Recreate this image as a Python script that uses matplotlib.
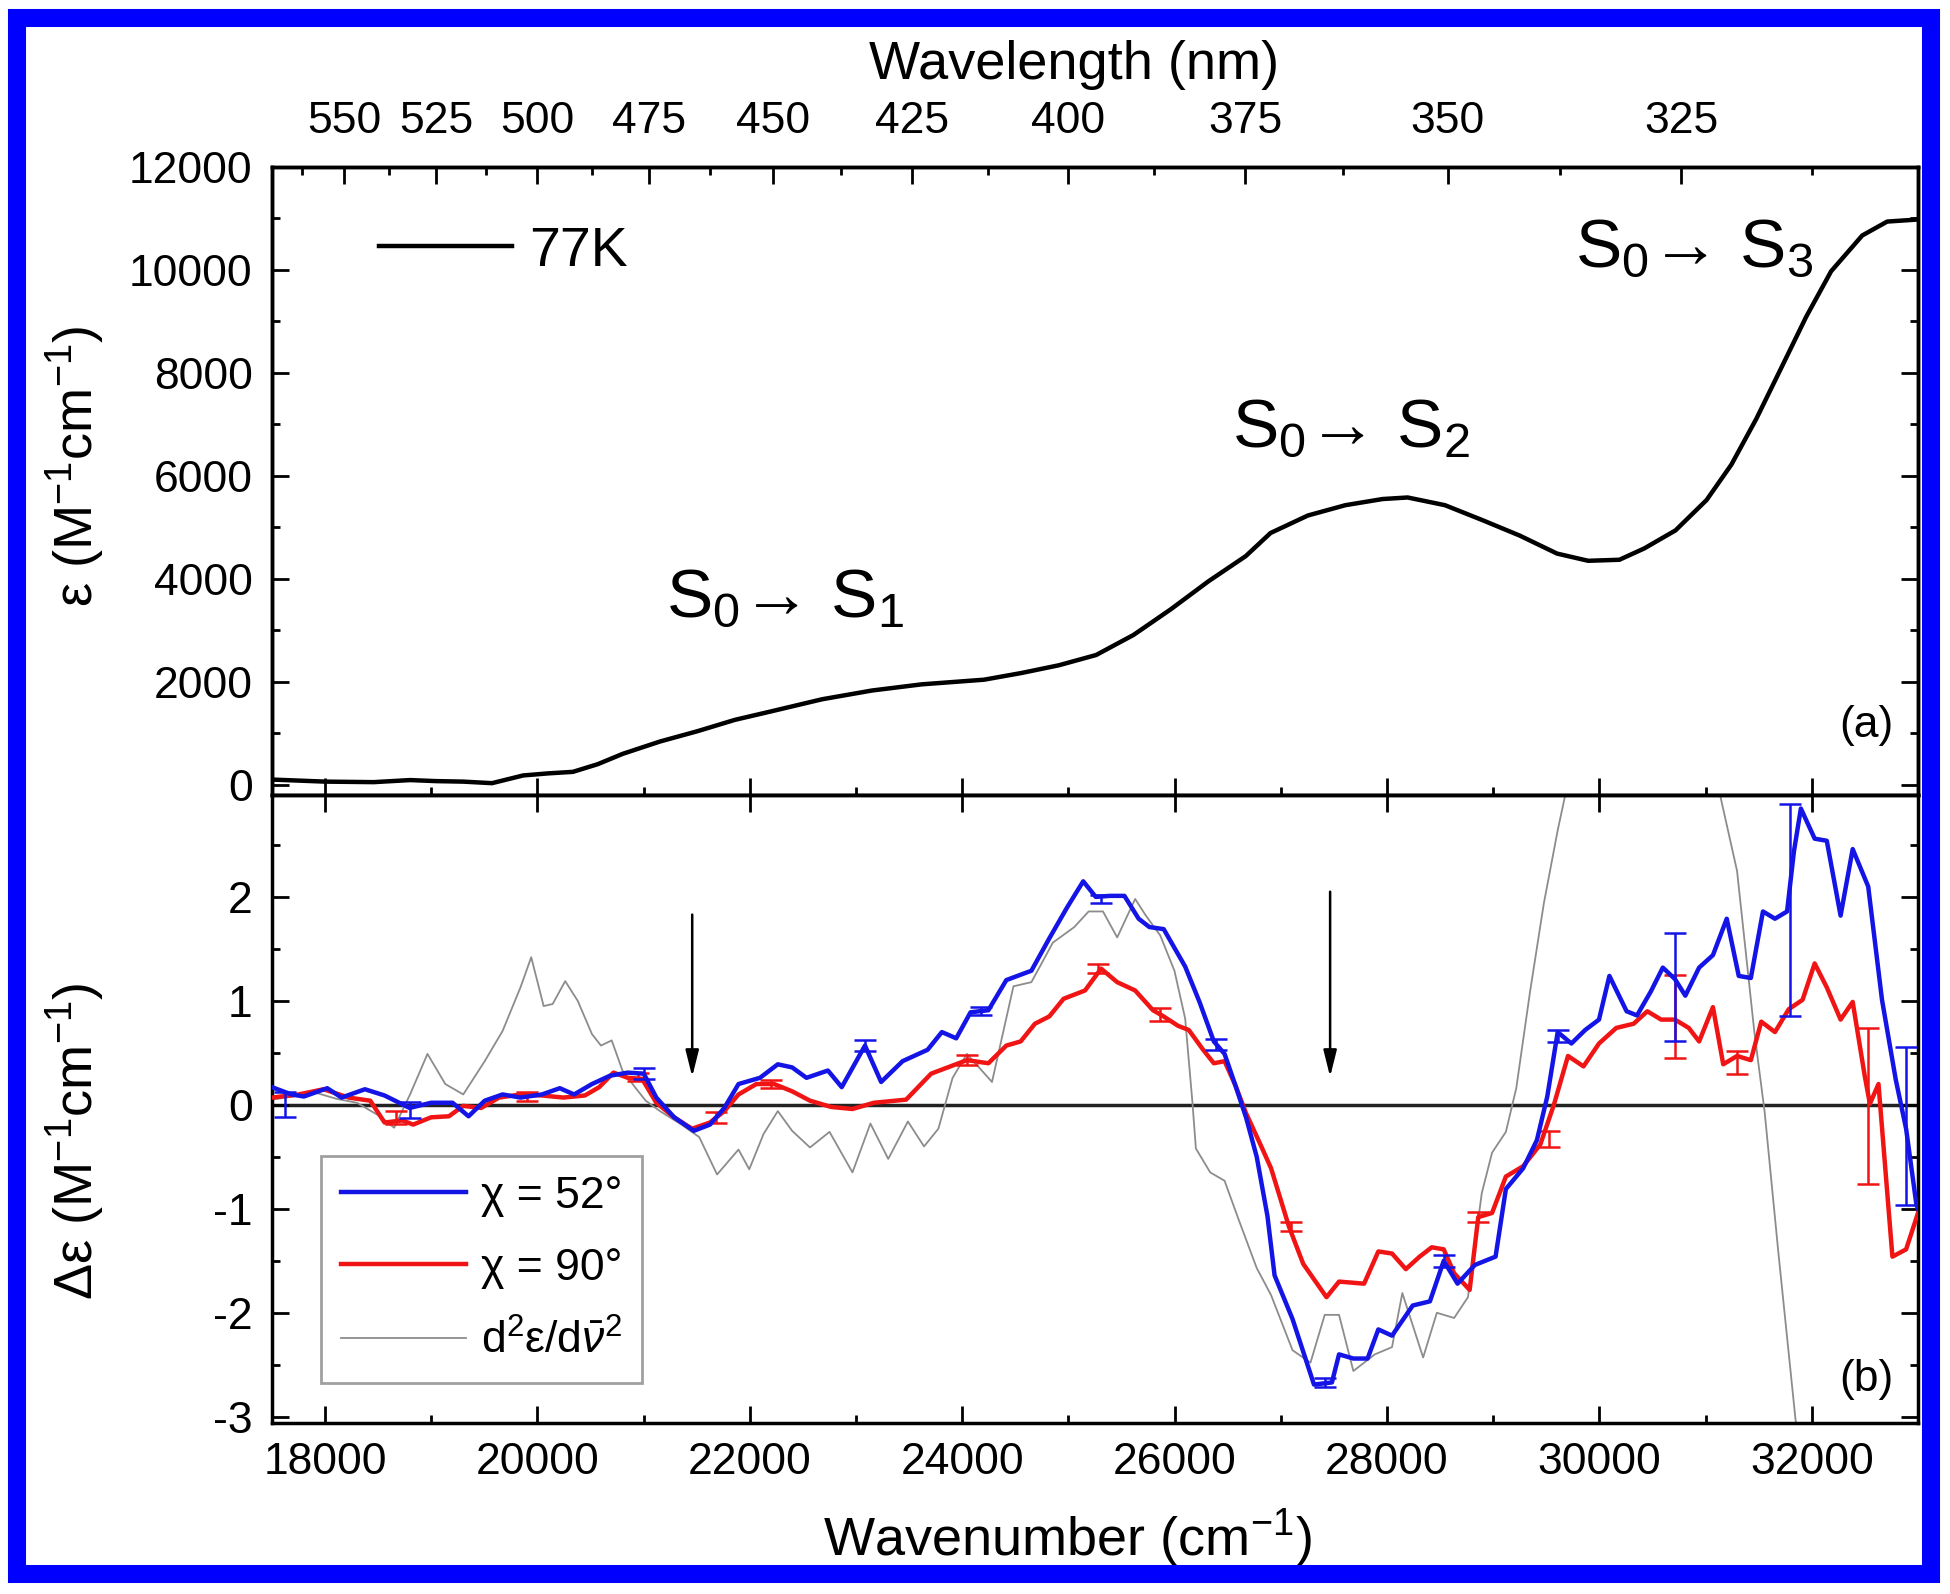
import numpy as np
import matplotlib
matplotlib.use("Agg")
import matplotlib.pyplot as plt
from matplotlib.patches import Rectangle
from matplotlib.ticker import MultipleLocator

plt.rcParams['font.family'] = ['Liberation Sans', 'DejaVu Sans']
plt.rcParams['mathtext.fontset'] = 'custom'
plt.rcParams['mathtext.rm'] = 'Liberation Sans'
plt.rcParams['mathtext.it'] = 'Liberation Sans:italic'
plt.rcParams['mathtext.bf'] = 'Liberation Sans:bold'
plt.rcParams['axes.unicode_minus'] = False

# (a) absorption at 77K
wn_77k = [17500, 18000, 18457, 18800, 19044, 19300, 19572, 19865, 20100, 20334, 20569,
          20803, 21155, 21507, 21859, 22211, 22680, 23150, 23619, 24205, 24557, 24909,
          25261, 25613, 25965, 26317, 26669, 26903, 27255, 27607, 27959, 28194, 28546,
          28898, 29249, 29601, 29894, 30188, 30422, 30716, 31009, 31243, 31478, 31713,
          31947, 32182, 32475, 32710, 33000]
eps_77k = [100, 60, 50, 90, 70, 60, 30, 180, 220, 250, 400,
           600, 840, 1040, 1260, 1430, 1660, 1830, 1950, 2040, 2170, 2320,
           2520, 2910, 3410, 3950, 4440, 4890, 5230, 5430, 5550, 5580, 5430,
           5140, 4840, 4490, 4350, 4370, 4590, 4940, 5530, 6220, 7110, 8100,
           9090, 9975, 10670, 10940, 10980]

# top axis wavelengths (nm)
wl_major = [550, 525, 500, 475, 450, 425, 400, 375, 350, 325]
wl_minor = [562.5, 537.5, 512.5, 487.5, 462.5, 437.5, 412.5, 387.5, 362.5, 337.5, 312.5]

# (b) CD spectra
wn_52 = [17500, 17683, 17800, 18020, 18155, 18375, 18560, 18796, 18998, 19200, 19351,
         19503, 19671, 19840, 20042, 20210, 20345, 20513, 20682, 20850, 21001, 21119,
         21287, 21472, 21624, 21759, 21893, 22095, 22263, 22398, 22533, 22735, 22865,
         23084, 23236, 23438, 23674, 23808, 23943, 24078, 24246, 24415, 24651, 24819,
         24988, 25139, 25257, 25392, 25527, 25661, 25762, 25897, 26099, 26234, 26369,
         26470, 26571, 26672, 26773, 26874, 26941, 27110, 27312, 27481, 27548, 27683,
         27817, 27918, 28047, 28242, 28404, 28534, 28664, 28827, 29022, 29119, 29282,
         29411, 29509, 29607, 29736, 29866, 29996, 30094, 30256, 30354, 30484, 30597,
         30711, 30809, 30939, 31069, 31199, 31312, 31426, 31540, 31653, 31767, 31832,
         31897, 32027, 32141, 32271, 32385, 32531, 32661, 32791, 32888, 32985, 33000]
de_52 = [0.17, 0.10, 0.08, 0.16, 0.07, 0.15, 0.09, -0.03, 0.02, 0.02, -0.11,
         0.04, 0.10, 0.07, 0.10, 0.16, 0.10, 0.20, 0.28, 0.31, 0.30, 0.07,
         -0.12, -0.25, -0.19, -0.03, 0.20, 0.26, 0.39, 0.36, 0.26, 0.33, 0.17,
         0.57, 0.22, 0.42, 0.53, 0.70, 0.64, 0.89, 0.91, 1.20, 1.29, 1.60,
         1.90, 2.15, 2.00, 2.01, 2.01, 1.79, 1.71, 1.69, 1.33, 0.99, 0.61,
         0.49, 0.19, -0.12, -0.50, -1.07, -1.64, -2.06, -2.69, -2.67, -2.40, -2.44,
         -2.44, -2.16, -2.22, -1.93, -1.89, -1.50, -1.72, -1.54, -1.46, -0.81, -0.61,
         -0.34, 0.08, 0.70, 0.59, 0.72, 0.82, 1.24, 0.90, 0.86, 1.09, 1.32,
         1.21, 1.05, 1.32, 1.44, 1.79, 1.24, 1.22, 1.86, 1.79, 1.86, 2.44,
         2.85, 2.56, 2.54, 1.82, 2.46, 2.10, 1.01, 0.24, -0.23, -0.96, -1.00]

wn_90 = [17500, 17750, 17986, 18222, 18425, 18560, 18728, 18829, 18998, 19166, 19301,
         19469, 19638, 19840, 20042, 20244, 20446, 20581, 20716, 20850, 20985, 21119,
         21287, 21455, 21624, 21759, 21893, 22061, 22229, 22398, 22566, 22764, 22966,
         23168, 23471, 23707, 24044, 24246, 24415, 24550, 24684, 24819, 24954, 25156,
         25307, 25459, 25628, 25796, 25897, 26032, 26133, 26268, 26369, 26470, 26571,
         26672, 26807, 26908, 27076, 27211, 27430, 27548, 27784, 27918, 28047, 28177,
         28307, 28421, 28534, 28632, 28778, 28859, 28989, 29119, 29282, 29444, 29574,
         29704, 29850, 29996, 30159, 30322, 30451, 30581, 30711, 30841, 30939, 31069,
         31166, 31296, 31426, 31524, 31653, 31783, 31913, 32027, 32141, 32271, 32385,
         32498, 32547, 32628, 32759, 32888, 33000]
de_90 = [0.07, 0.10, 0.15, 0.07, 0.04, -0.17, -0.15, -0.19, -0.12, -0.11, -0.01,
         -0.03, 0.07, 0.10, 0.09, 0.07, 0.09, 0.17, 0.31, 0.26, 0.25, 0.02,
         -0.12, -0.23, -0.17, -0.06, 0.10, 0.20, 0.20, 0.13, 0.04, -0.02, -0.04,
         0.02, 0.05, 0.30, 0.43, 0.40, 0.57, 0.61, 0.78, 0.85, 1.02, 1.10,
         1.31, 1.18, 1.10, 0.91, 0.85, 0.76, 0.72, 0.53, 0.40, 0.42, 0.19,
         -0.08, -0.38, -0.61, -1.17, -1.53, -1.85, -1.70, -1.72, -1.41, -1.43, -1.58,
         -1.46, -1.37, -1.39, -1.62, -1.78, -1.08, -1.04, -0.69, -0.59, -0.38, 0.01,
         0.47, 0.37, 0.59, 0.74, 0.78, 0.90, 0.82, 0.82, 0.74, 0.61, 0.94,
         0.39, 0.47, 0.43, 0.80, 0.70, 0.92, 1.01, 1.36, 1.13, 0.82, 0.99,
         0.28, 0.01, 0.20, -1.46, -1.39, -1.04]

# second derivative of the 77K absorption (scaled)
wn_d2 = [17500, 17700, 17900, 18100, 18300, 18500, 18650, 18800, 18964, 19132, 19301,
         19503, 19671, 19840, 19941, 20058, 20143, 20261, 20379, 20513, 20598, 20699,
         20800, 20918, 21019, 21153, 21355, 21523, 21691, 21893, 21994, 22129, 22263,
         22398, 22566, 22750, 22966, 23135, 23303, 23488, 23640, 23775, 23909, 24044,
         24280, 24381, 24482, 24651, 24853, 25055, 25190, 25325, 25459, 25628, 25729,
         25864, 25998, 26099, 26167, 26200, 26335, 26470, 26605, 26773, 26908, 27110,
         27279, 27413, 27548, 27683, 27885, 28047, 28144, 28340, 28469, 28632, 28762,
         28892, 28989, 29119, 29217, 29347, 29477, 29607, 29672, 29800, 30400, 31000,
         31134, 31296, 31459, 31556, 31686, 31848, 32000, 32500, 33000]
d2 = [0.05, 0.08, 0.12, 0.06, 0.02, -0.10, -0.22, 0.10, 0.49, 0.20, 0.10,
      0.42, 0.71, 1.13, 1.42, 0.95, 0.97, 1.19, 1.00, 0.68, 0.57, 0.62,
      0.33, 0.17, 0.04, -0.06, -0.19, -0.31, -0.67, -0.43, -0.62, -0.28, -0.06,
      -0.25, -0.41, -0.26, -0.65, -0.18, -0.52, -0.16, -0.40, -0.23, 0.26, 0.49,
      0.22, 0.68, 1.14, 1.18, 1.56, 1.71, 1.86, 1.86, 1.61, 1.98, 1.82,
      1.63, 1.29, 0.83, 0.03, -0.42, -0.65, -0.73, -1.11, -1.57, -1.83, -2.36,
      -2.48, -2.02, -2.02, -2.56, -2.40, -2.33, -1.81, -2.43, -2.00, -2.05, -1.85,
      -0.85, -0.46, -0.26, 0.16, 1.09, 1.94, 2.64, 2.95, 3.6, 4.5, 3.6,
      2.99, 2.25, 0.70, -0.07, -1.43, -3.04, -3.6, -4.5, -5.0]

# error bars (position, value, half-width)
eb52_x = [17620, 18800, 21000, 23084, 24180, 25307, 26386, 27413, 28534, 29607, 30711, 31790, 32888]
eb52_y = [0.0, -0.05, 0.30, 0.57, 0.90, 1.98, 0.58, -2.67, -1.50, 0.66, 1.13, 1.87, -0.20]
eb52_e = [0.12, 0.08, 0.05, 0.05, 0.04, 0.04, 0.05, 0.04, 0.06, 0.06, 0.52, 1.02, 0.76]

eb90_x = [18670, 19900, 20950, 21680, 22200, 24044, 25274, 25864, 27093, 28859, 29525, 30711, 31296, 32531]
eb90_y = [-0.12, 0.08, 0.27, -0.12, 0.20, 0.43, 1.31, 0.87, -1.17, -1.08, -0.33, 0.85, 0.41, -0.01]
eb90_e = [0.06, 0.04, 0.04, 0.05, 0.04, 0.05, 0.04, 0.06, 0.04, 0.05, 0.08, 0.40, 0.11, 0.75]

arrow_x = [21457, 27464]
arrow_top = [1.83, 2.05]
arrow_tip = 0.27

blue = '#1414e6'
red = '#f01414'
grey = '#8c8c8c'
tick_fs = 32
label_fs = 39

fig = plt.figure(figsize=(19.5, 15.94), dpi=100)
ax1 = fig.add_axes([0.13949, 0.50125, 0.8441, 0.39398])
ax2 = fig.add_axes([0.13949, 0.10728, 0.8441, 0.39397])

for ax in (ax1, ax2):
    for s in ax.spines.values():
        s.set_linewidth(2.5)
    ax.set_xlim(17500, 33000)
    ax.xaxis.set_major_locator(MultipleLocator(2000))
    ax.xaxis.set_minor_locator(MultipleLocator(1000))
    ax.tick_params(which='both', direction='in', right=True, width=2, labelsize=tick_fs)
    ax.tick_params(which='major', length=12)
    ax.tick_params(which='minor', length=6)

# ---- panel (a)
ax1.plot(wn_77k, eps_77k, color='black', lw=3.2, label='77K')
ax1.set_ylim(-200, 12000)
ax1.yaxis.set_major_locator(MultipleLocator(2000))
ax1.yaxis.set_minor_locator(MultipleLocator(1000))
ax1.tick_params(labelbottom=False, top=False, pad=14)
ax1.set_ylabel(r'ε (M$^{-1}$cm$^{-1}$)', fontsize=label_fs)
ax1.yaxis.set_label_coords(-0.10, 0.524)
ax1.legend(loc='center left', bbox_to_anchor=(0.065, 0.865), frameon=False,
           fontsize=40, handlelength=2.4, handletextpad=0.3, borderpad=0, borderaxespad=0)

# state labels: S, subscript dropped low and smaller, arrow
sub = dict(fontsize=30)
for xs, ys, n in [(22330, 3600, '1'), (27666, 6900, '2'), (30890, 10400, '3')]:
    ax1.text(xs, ys, r'S$_{' + '0' + r'}$→ S$_{' + n + r'}$', fontsize=50, ha='center', va='center')
ax1.text(0.985, 0.11, '(a)', transform=ax1.transAxes, fontsize=tick_fs, ha='right', va='center')

ax1t = ax1.twiny()
ax1t.set_xlim(ax1.get_xlim())
ax1t.set_xticks(1e7 / np.array(wl_major))
ax1t.set_xticklabels([str(w) for w in wl_major])
ax1t.set_xticks(1e7 / np.array(wl_minor), minor=True)
ax1t.tick_params(which='both', direction='in', width=2, labelsize=tick_fs, pad=18)
ax1t.tick_params(which='major', length=12)
ax1t.tick_params(which='minor', length=6)
ax1t.set_xlabel('Wavelength (nm)', fontsize=label_fs)
ax1t.xaxis.set_label_coords(0.487, 1.14)
for s in ax1t.spines.values():
    s.set_linewidth(2.5)

# ---- panel (b)
ax2.axhline(0, color='#222222', lw=2.5, zorder=1)
ax2.plot(wn_52, de_52, color=blue, lw=3.2, label='χ = 52°', zorder=4)
ax2.plot(wn_90, de_90, color=red, lw=3.2, label='χ = 90°', zorder=3)
ax2.plot(wn_d2, d2, color=grey, lw=1.3, label=r'd$^2$ε/d$\bar{\nu}^2$', zorder=2)
ax2.errorbar(eb52_x, eb52_y, yerr=eb52_e, fmt='none', ecolor=blue, elinewidth=1.8,
             capsize=8, capthick=1.8, zorder=4)
ax2.errorbar(eb90_x, eb90_y, yerr=eb90_e, fmt='none', ecolor=red, elinewidth=1.8,
             capsize=8, capthick=1.8, zorder=3)
for xa, ya in zip(arrow_x, arrow_top):
    ax2.annotate('', xy=(xa, arrow_tip), xytext=(xa, ya),
                 arrowprops=dict(arrowstyle='-|>,head_length=0.8,head_width=0.2',
                                 color='black', lw=1.8, mutation_scale=20, shrinkA=0, shrinkB=0))

ax2.set_ylim(-3.06, 2.98)
ax2.set_yticks([-3, -2, -1, 0, 1, 2])
ax2.yaxis.set_minor_locator(MultipleLocator(0.5))
ax2.tick_params(top=True, pad=14)
ax2.set_ylabel(r'Δε (M$^{-1}$cm$^{-1}$)', fontsize=label_fs)
ax2.yaxis.set_label_coords(-0.10, 0.449)
ax2.set_xlabel(r'Wavenumber (cm$^{-1}$)', fontsize=label_fs)
ax2.xaxis.set_label_coords(0.483, -0.135)
ax2.text(0.985, 0.07, '(b)', transform=ax2.transAxes, fontsize=tick_fs, ha='right', va='center')

leg = ax2.legend(loc='lower left', bbox_to_anchor=(0.0298, 0.0637), borderaxespad=0,
                 fontsize=32, handlelength=2.8, handletextpad=0.35, labelspacing=0.7,
                 borderpad=0.45, fancybox=False, framealpha=1)
leg.get_frame().set_edgecolor('#a0a0a0')
leg.get_frame().set_linewidth(2)

# blue frame round the whole picture
fig.patches.append(Rectangle((17 / 1950, 20.5 / 1594), (1931 - 17) / 1950, (1573.5 - 17.5) / 1594,
                             transform=fig.transFigure, fill=False, edgecolor='#0000ff', lw=13))

fig.savefig('out.png', dpi=100)
